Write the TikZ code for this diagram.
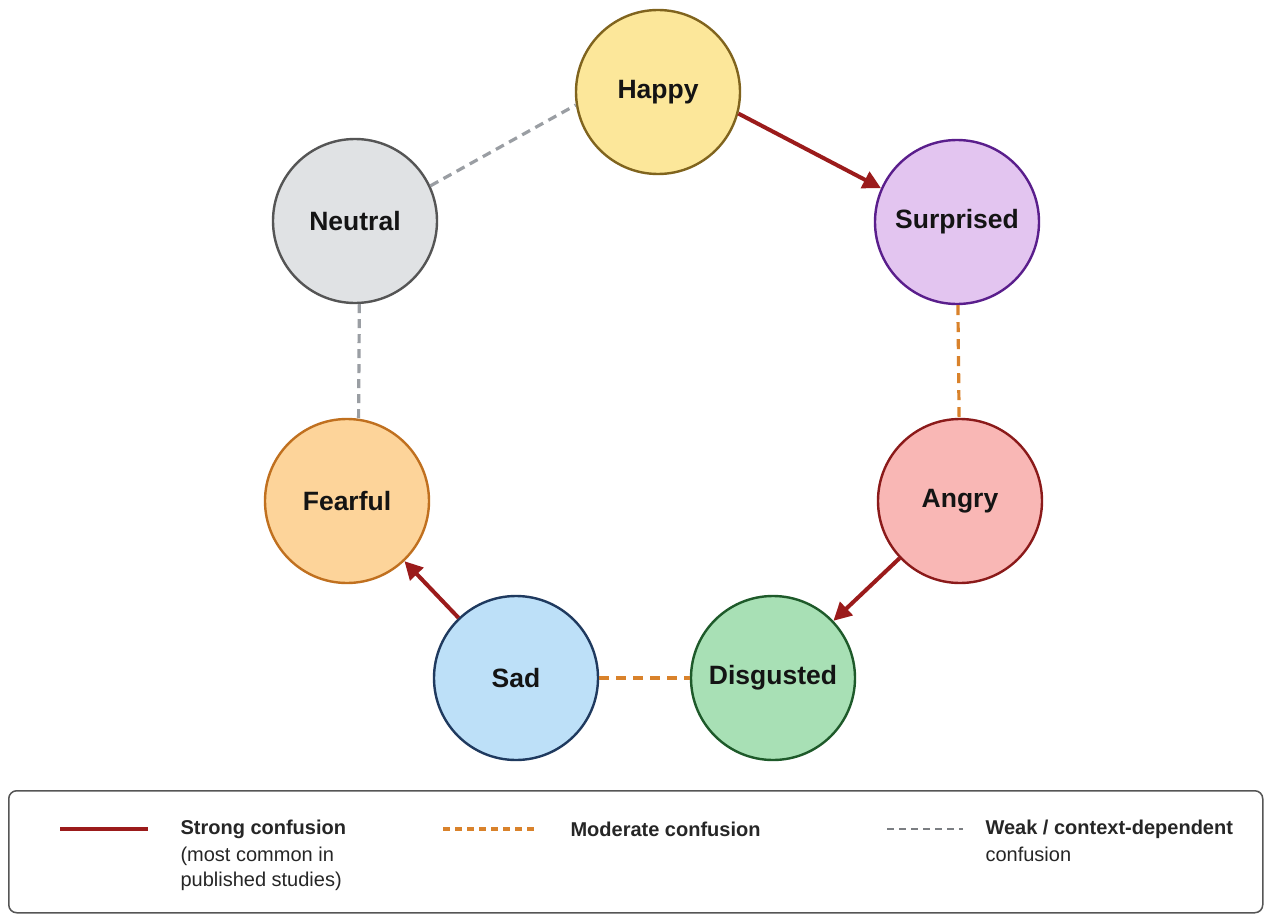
\documentclass[tikz,border=0pt]{standalone}
\usepackage{fontspec}
\setmainfont{Liberation Sans}
\usetikzlibrary{arrows.meta}
\definecolor{strongc}{HTML}{9B1B1B}
\definecolor{modc}{HTML}{D9822B}
\definecolor{weakc}{HTML}{9A9EA3}
\tikzset{
  emo/.style={circle, minimum size=164pt, inner sep=0pt, line width=2.4pt, font=\fontsize{26.5}{30}\selectfont\bfseries, text=black!92},
  strongedge/.style={draw=strongc, line width=4pt, -{Triangle[length=18pt,width=18pt]}},
  modedge/.style={draw=modc, line width=3.2pt, dash pattern=on 10pt off 7pt},
  weakedge/.style={draw=weakc, line width=3.2pt, dash pattern=on 9pt off 6pt},
  legtext/.style={anchor=west, font=\fontsize{20}{25}\selectfont, text=black!85, align=left},
}
\begin{document}
\begin{tikzpicture}[x=1pt,y=-1pt]
\useasboundingbox (0,0) rectangle (1269,915);
\fill[white] (0,0) rectangle (1269,915);
% nodes
\node[emo, fill={rgb,255:red,252;green,231;blue,154}, draw={rgb,255:red,128;green,100;blue,30}] (happy) at (658,92) {Happy};
\node[emo, fill={rgb,255:red,224;green,226;blue,228}, draw={rgb,255:red,85;green,85;blue,85}] (neutral) at (355,221) {Neutral};
\node[emo, fill={rgb,255:red,227;green,197;blue,240}, draw={rgb,255:red,90;green,30;blue,140}] (surprised) at (957,222) {Surprised};
\node[emo, fill={rgb,255:red,249;green,183;blue,181}, draw={rgb,255:red,139;green,26;blue,26}] (angry) at (960,501) {Angry};
\node[emo, fill={rgb,255:red,253;green,212;blue,154}, draw={rgb,255:red,192;green,112;blue,31}] (fearful) at (347,501) {Fearful};
\node[emo, fill={rgb,255:red,189;green,224;blue,248}, draw={rgb,255:red,31;green,58;blue,95}] (sad) at (516,678) {Sad};
\node[emo, fill={rgb,255:red,168;green,224;blue,181}, draw={rgb,255:red,30;green,90;blue,42}] (disgusted) at (773,678) {Disgusted};
% edges
\draw[strongedge] (happy.-15) -- (surprised.156);
\draw[strongedge] (angry) -- (disgusted);
\draw[strongedge] (sad) -- (fearful);
\draw[modedge] (surprised) -- (angry);
\draw[modedge] (sad) -- (disgusted);
\draw[weakedge] (neutral.25) -- (happy.189);
\draw[weakedge] (neutral.-87) -- (fearful.82);
% legend
\node[draw={rgb,255:red,85;green,85;blue,85}, line width=1.5pt, rounded corners=8pt, minimum width=1254pt, minimum height=122pt, anchor=north west, inner sep=0pt] (legend) at (8,790) {};
\coordinate (l1a) at (60,829); \coordinate (l1b) at (148,829);
\coordinate (l2a) at (443,829); \coordinate (l2b) at (535,829);
\coordinate (l3a) at (887,829); \coordinate (l3b) at (963,829);
\draw[draw=strongc, line width=4pt] (l1a) -- (l1b);
\draw[modedge, dash pattern=on 7pt off 5pt] (l2a) -- (l2b);
\draw[draw=weakc!80!black, line width=2.2pt, dash pattern=on 7pt off 5pt] (l3a) -- (l3b);
\node[legtext] (t1) at (177,829) {\textbf{Strong confusion}};
\node[legtext, anchor=north west] (t1b) at (177,843) {(most common in\\published studies)};
\node[legtext] (t2) at (567,829) {\textbf{Moderate confusion}};
\node[legtext] (t3) at (982,829) {\textbf{Weak / context-dependent}};
\node[legtext, anchor=north west] (t3b) at (982,843) {confusion};
\end{tikzpicture}
\end{document}
